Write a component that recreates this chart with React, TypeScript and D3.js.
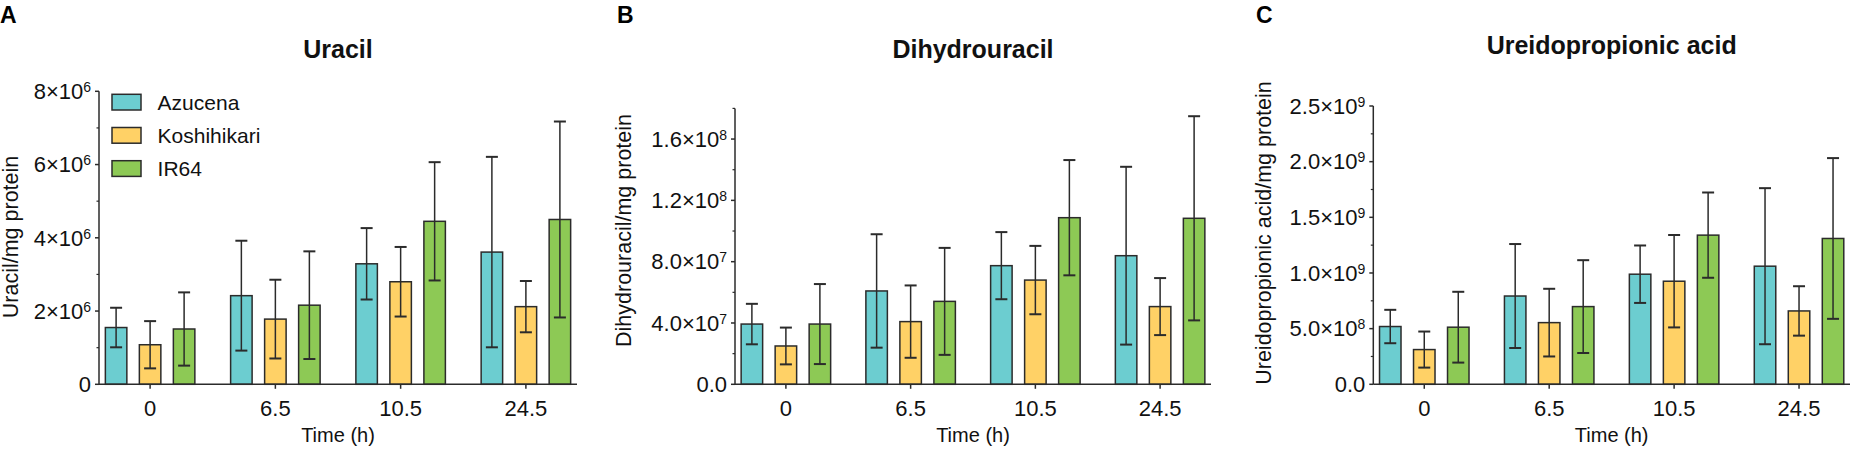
import React from 'react';
import * as d3 from 'd3';

const timeLabels = ['0', '6.5', '10.5', '24.5'];
const seriesNames = ['Azucena', 'Koshihikari', 'IR64'];
const seriesColors = ['#6ccdd0', '#ffd166', '#8dc955'];

// Uracil (per mg protein): rows = series, cols = time points
const uracilMean = [
  [1.55e6, 2.42e6, 3.29e6, 3.61e6],
  [1.08e6, 1.78e6, 2.80e6, 2.12e6],
  [1.51e6, 2.16e6, 4.45e6, 4.50e6],
];
const uracilSD = [
  [0.54e6, 1.50e6, 0.975e6, 2.60e6],
  [0.645e6, 1.075e6, 0.95e6, 0.70e6],
  [1.00e6, 1.47e6, 1.615e6, 2.675e6],
];
const uracilTicks = [0, 2e6, 4e6, 6e6, 8e6];
const uracilTickLabels = ['0', '2×10^6', '4×10^6', '6×10^6', '8×10^6'];

// Dihydrouracil
const dihydroMean = [
  [3.93e7, 6.09e7, 7.74e7, 8.39e7],
  [2.50e7, 4.09e7, 6.80e7, 5.07e7],
  [3.93e7, 5.41e7, 10.87e7, 10.83e7],
];
const dihydroSD = [
  [1.32e7, 3.70e7, 2.19e7, 5.80e7],
  [1.20e7, 2.36e7, 2.23e7, 1.86e7],
  [2.61e7, 3.49e7, 3.76e7, 6.66e7],
];
const dihydroTicks = [0, 4e7, 8e7, 1.2e8, 1.6e8];
const dihydroTickLabels = ['0.0', '4.0×10^7', '8.0×10^7', '1.2×10^8', '1.6×10^8'];

// Ureidopropionic acid
const ureidoMean = [
  [5.19e8, 7.93e8, 9.89e8, 10.61e8],
  [3.12e8, 5.54e8, 9.26e8, 6.59e8],
  [5.13e8, 6.98e8, 13.40e8, 13.10e8],
];
const ureidoSD = [
  [1.50e8, 4.67e8, 2.58e8, 7.01e8],
  [1.62e8, 3.04e8, 4.15e8, 2.22e8],
  [3.18e8, 4.17e8, 3.83e8, 7.22e8],
];
const ureidoTicks = [0, 5e8, 1e9, 1.5e9, 2e9, 2.5e9];
const ureidoTickLabels = ['0.0', '5.0×10^8', '1.0×10^9', '1.5×10^9', '2.0×10^9', '2.5×10^9'];

const FONT = "Arial, 'Liberation Sans', Helvetica, sans-serif";
const INK = '#2b2b2b';
const BASE_Y = 384.3;

function TickLabel({ x, y, label }: { x: number; y: number; label: string }) {
  const parts = label.split('^');
  return (
    <text x={x} y={y} textAnchor="end" fontSize={22} fontFamily={FONT} fill="#111">
      {parts[0]}
      {parts[1] !== undefined && (
        <tspan fontSize={14} dy={-7}>{parts[1]}</tspan>
      )}
    </text>
  );
}

type PanelProps = {
  letter: string;
  letterX: number;
  title: string;
  titleY: number;
  x0: number;
  x1: number;
  yTop: number;
  max: number;
  minorStep: number;
  ticks: number[];
  tickLabels: string[];
  yLabel: string;
  yLabelX: number;
  yLabelY: number;
  means: number[][];
  sds: number[][];
  legend?: boolean;
};

function Panel(p: PanelProps) {
  const y = d3.scaleLinear().domain([0, p.max]).range([BASE_Y, p.yTop]);
  const x = d3.scalePoint<string>().domain(timeLabels).range([p.x0, p.x1]).padding(0.408);
  const xs = d3.scaleBand<string>().domain(seriesNames).range([-44.75, 44.75]).paddingInner(0.368);
  const bw = xs.bandwidth();
  const minor = d3.range(p.minorStep, p.max + 1e-9 * p.max, p.minorStep).filter(
    (v) => !p.ticks.some((t) => Math.abs(t - v) < p.minorStep * 0.01)
  );
  const cx = (p.x0 + p.x1) / 2;
  return (
    <g>
      <text x={p.letterX} y={23.3} fontSize={23} fontWeight="bold" fontFamily={FONT} fill="#000">
        {p.letter}
      </text>
      <text x={cx} y={p.titleY} textAnchor="middle" fontSize={25} fontWeight="bold" fontFamily={FONT} fill="#111">
        {p.title}
      </text>
      <text
        transform={`translate(${p.yLabelX},${p.yLabelY}) rotate(-90)`}
        textAnchor="middle"
        fontSize={21.5}
        fontFamily={FONT}
        fill="#111"
      >
        {p.yLabel}
      </text>
      {/* bars */}
      {seriesNames.map((s, si) =>
        timeLabels.map((t, ti) => {
          const bx = (x(t) as number) + (xs(s) as number);
          const v = p.means[si][ti];
          return (
            <rect
              key={`b-${si}-${ti}`}
              x={bx}
              y={y(v)}
              width={bw}
              height={BASE_Y - y(v)}
              fill={seriesColors[si]}
              stroke={INK}
              strokeWidth={1.5}
            />
          );
        })
      )}
      {/* error bars */}
      {seriesNames.map((s, si) =>
        timeLabels.map((t, ti) => {
          const ex = (x(t) as number) + (xs(s) as number) + bw / 2;
          const m = p.means[si][ti];
          const sd = p.sds[si][ti];
          const yh = y(m + sd);
          const yl = y(Math.max(0, m - sd));
          return (
            <g key={`e-${si}-${ti}`} stroke={INK} strokeWidth={1.5}>
              <line x1={ex} x2={ex} y1={yh} y2={yl} />
              <line x1={ex - 6} x2={ex + 6} y1={yh} y2={yh} strokeWidth={2} />
              <line x1={ex - 6} x2={ex + 6} y1={yl} y2={yl} strokeWidth={2} />
            </g>
          );
        })
      )}
      {/* y axis */}
      <line x1={p.x0} x2={p.x0} y1={BASE_Y} y2={p.yTop} stroke={INK} strokeWidth={1.5} />
      {p.ticks.map((t, i) => (
        <g key={`yt-${i}`}>
          <line x1={p.x0 - 4} x2={p.x0} y1={y(t)} y2={y(t)} stroke={INK} strokeWidth={1.5} />
          <TickLabel x={p.x0 - 8} y={y(t) + 7.8} label={p.tickLabels[i]} />
        </g>
      ))}
      {minor.map((t, i) => (
        <line key={`ym-${i}`} x1={p.x0 - 2.5} x2={p.x0} y1={y(t)} y2={y(t)} stroke={INK} strokeWidth={1.2} />
      ))}
      {/* x axis */}
      <line x1={p.x0} x2={p.x1} y1={BASE_Y} y2={BASE_Y} stroke={INK} strokeWidth={1.5} />
      {timeLabels.map((t) => (
        <g key={`xt-${t}`}>
          <line x1={x(t)} x2={x(t)} y1={BASE_Y} y2={BASE_Y + 4.5} stroke={INK} strokeWidth={1.5} />
          <text x={x(t)} y={416} textAnchor="middle" fontSize={22} fontFamily={FONT} fill="#111">
            {t}
          </text>
        </g>
      ))}
      <text x={cx} y={441.5} textAnchor="middle" fontSize={20} fontFamily={FONT} fill="#111">
        Time (h)
      </text>
      {p.legend &&
        seriesNames.map((s, si) => (
          <g key={`lg-${s}`}>
            <rect x={112} y={94.3 + si * 33.2} width={29} height={15.7} fill={seriesColors[si]} stroke={INK} strokeWidth={1.5} />
            <text x={157.6} y={94.3 + si * 33.2 + 15.7 / 2 + 7.5} fontSize={21} fontFamily={FONT} fill="#111">
              {s}
            </text>
          </g>
        ))}
    </g>
  );
}

export default function App() {
  return (
    <svg
      width={1850}
      height={449}
      viewBox="0 0 1850 449"
      style={{ position: 'absolute', left: 0, top: 0, background: '#fff', display: 'block' }}
    >
      <rect x={0} y={0} width={1850} height={449} fill="#fff" />
      <Panel
        letter="A"
        letterX={0}
        title="Uracil"
        titleY={58.3}
        x0={99}
        x1={577}
        yTop={91.3}
        max={8e6}
        minorStep={1e6}
        ticks={uracilTicks}
        tickLabels={uracilTickLabels}
        yLabel="Uracil/mg protein"
        yLabelX={18}
        yLabelY={237}
        means={uracilMean}
        sds={uracilSD}
        legend
      />
      <Panel
        letter="B"
        letterX={617}
        title="Dihydrouracil"
        titleY={58.3}
        x0={735}
        x1={1211}
        yTop={108.4}
        max={1.8e8}
        minorStep={2e7}
        ticks={dihydroTicks}
        tickLabels={dihydroTickLabels}
        yLabel="Dihydrouracil/mg protein"
        yLabelX={630.5}
        yLabelY={230.5}
        means={dihydroMean}
        sds={dihydroSD}
      />
      <Panel
        letter="C"
        letterX={1256}
        title="Ureidopropionic acid"
        titleY={54}
        x0={1373.3}
        x1={1850}
        yTop={106}
        max={2.5e9}
        minorStep={2.5e8}
        ticks={ureidoTicks}
        tickLabels={ureidoTickLabels}
        yLabel="Ureidopropionic acid/mg protein"
        yLabelX={1270.5}
        yLabelY={233}
        means={ureidoMean}
        sds={ureidoSD}
      />
    </svg>
  );
}
